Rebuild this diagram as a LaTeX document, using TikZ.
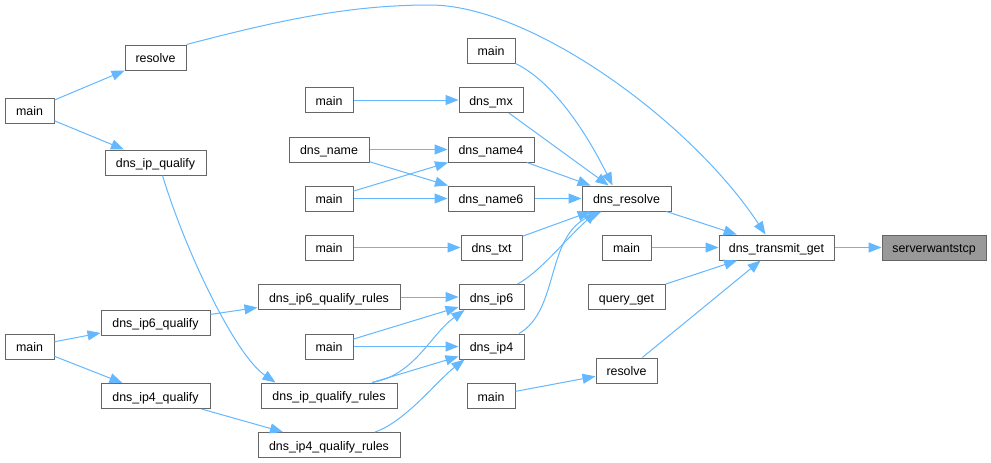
\documentclass[tikz,border=0pt]{standalone}
\usepackage{fontspec}
\setmainfont{Liberation Sans}
\usetikzlibrary{arrows.meta,calc}
\definecolor{edgeblue}{HTML}{63B8FF}
\definecolor{bordgray}{HTML}{666666}
\definecolor{hlgray}{HTML}{999999}
\begin{document}
\begin{tikzpicture}[x=1pt,y=-1pt,
  box/.style={draw=bordgray,line width=1pt,fill=white,minimum height=25pt,inner sep=0pt,
    text height=10pt,text depth=0pt,
    font=\fontsize{12.4}{14}\selectfont},
  link/.style={draw=edgeblue,line width=1pt,-{Triangle[length=13pt,width=10pt]}}]
\useasboundingbox[fill=white] (0,0) rectangle (991,463);

% column 1
\node[box,minimum width=49pt] (mainA) at (29.5,110.5) {main};
\node[box,minimum width=49pt] (mainG) at (29.5,346.5) {main};
% column 2
\node[box,minimum width=61pt] (resolveA) at (155.5,57.5) {resolve};
\node[box,minimum width=101pt] (ipq) at (155.5,162.5) {dns\_ip\_qualify};
\node[box,minimum width=109pt] (ip6q) at (155.5,322.5) {dns\_ip6\_qualify};
\node[box,minimum width=109pt] (ip4q) at (155.5,396) {dns\_ip4\_qualify};
% column 3
\node[box,minimum width=48pt] (mainC) at (329,100) {main};
\node[box,minimum width=80pt] (dname) at (329,149.5) {dns\_name};
\node[box,minimum width=48pt] (mainD) at (329,198.5) {main};
\node[box,minimum width=48pt] (mainE) at (329,247.5) {main};
\node[box,minimum width=142pt] (ip6qr) at (329,297) {dns\_ip6\_qualify\_rules};
\node[box,minimum width=48pt] (mainH) at (329,346.5) {main};
\node[box,minimum width=136pt] (ipqr) at (329,395.5) {dns\_ip\_qualify\_rules};
\node[box,minimum width=142pt] (ip4qr) at (329,445) {dns\_ip4\_qualify\_rules};
% column 4
\node[box,minimum width=48pt] (mainB) at (491,50.5) {main};
\node[box,minimum width=64pt] (dmx) at (491,100) {dns\_mx};
\node[box,minimum width=86pt] (dname4) at (491,149.5) {dns\_name4};
\node[box,minimum width=86pt] (dname6) at (491,198.5) {dns\_name6};
\node[box,minimum width=61pt] (dtxt) at (491.5,247.5) {dns\_txt};
\node[box,minimum width=65pt] (dip6) at (491.5,297) {dns\_ip6};
\node[box,minimum width=65pt] (dip4) at (491.5,346.5) {dns\_ip4};
\node[box,minimum width=48pt] (mainI) at (491,396) {main};
% column 5
\node[box,minimum width=89pt] (dres) at (626.5,198.5) {dns\_resolve};
\node[box,minimum width=49pt] (mainF) at (626.5,247.5) {main};
\node[box,minimum width=77pt] (qget) at (626.5,297) {query\_get};
\node[box,minimum width=61pt] (resolveB) at (626.5,370.5) {resolve};
% column 6, 7
\node[box,minimum width=115pt] (dtg) at (776.5,247.5) {dns\_transmit\_get};
\node[box,minimum width=104pt,fill=hlgray] (swt) at (934,247.5) {serverwantstcp};

% straight edges
\draw[link] (mainA) -- (resolveA);
\draw[link] (mainA) -- (ipq);
\draw[link] (mainC) -- (dmx);
\draw[link] (dmx) -- (dres);
\draw[link] (dname) -- (dname4);
\draw[link] (dname) -- (dname6);
\draw[link] (mainD) -- (dname4);
\draw[link] (mainD) -- (dname6);
\draw[link] (dname4) -- (dres);
\draw[link] (dname6) -- (dres);
\draw[link] (mainE) -- (dtxt);
\draw[link] (dtxt) -- (dres);
\draw[link] (dres) -- (dtg);
\draw[link] (mainF) -- (dtg);
\draw[link] (qget) -- (dtg);
\draw[link] (resolveB) -- (dtg);
\draw[link] (dtg) -- (swt);
\draw[link] (mainG) -- (ip6q);
\draw[link] (mainG) -- (ip4q);
\draw[link] (ip6q) -- (ip6qr);
\draw[link] (ip6qr) -- (dip6);
\draw[link] (mainH) -- (dip6);
\draw[link] (mainH) -- (dip4);
\draw[link] (ipqr) -- (dip4);
\draw[link] (ip4q) -- (ip4qr);
\draw[link] (mainI) -- (resolveB);

% curved edges
\draw[link] (resolveA.north east) .. controls (280,20) and (350,5) .. (430,5)
  .. controls (530,5) and (690,120) .. ($(dtg.north)+(-11,0)$);
\draw[link] (mainB.south east) .. controls (560,85) and (595,150) .. ($(dres.north)+(-14,0)$);
\draw[link] ($(dip6.north)+(26,0)$) .. controls (540,272) and (565,240) .. ($(dres.south)+(-30,0)$);
\draw[link] ($(dip4.north)+(27.5,0)$) .. controls (560,310) and (545,235) .. ($(dres.south)+(-25,0)$);
\draw[link] ($(ipq.south)+(7,0)$) .. controls (185,250) and (235,355) .. ($(ipqr.north west)+(15,0)$);
\draw[link] ($(ipqr.north)+(43,0)$) .. controls (415,375) and (430,335) .. ($(dip6.south west)+(6,0)$);
\draw[link] ($(ip4qr.north)+(46,0)$) .. controls (405,422) and (438,380) .. ($(dip4.south west)+(6,0)$);
\end{tikzpicture}
\end{document}
